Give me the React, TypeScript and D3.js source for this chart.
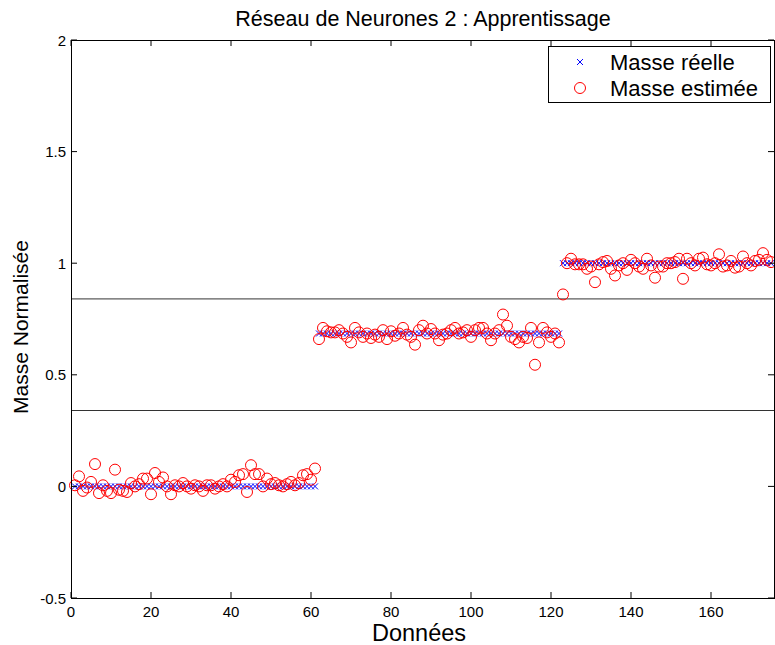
import React from "react";
import * as d3 from "d3";

const realValues: number[] = [
  ...Array(61).fill(0),
  ...Array(61).fill(0.685),
  ...Array(53).fill(1),
];

const estGroup1: number[] = [
  0.005, 0.045, -0.02, -0.005, 0.02, 0.1, -0.03, 0.005, -0.02, -0.03,
  0.075, -0.015, -0.02, -0.025, 0.015, 0.0, 0.01, 0.035, 0.035, -0.035,
  0.06, 0.02, 0.04, 0.0, -0.035, 0.005, 0.0, 0.015, 0.0, -0.01,
  0.005, 0.0, -0.02, 0.005, 0.005, -0.01, 0.0, 0.01, 0.0, 0.03,
  0.02, 0.05, 0.055, -0.025, 0.095, 0.055, 0.055, 0.0, 0.035, 0.01,
  0.015, 0.005, 0.0, 0.01, 0.02, 0.005, 0.015, 0.05, 0.055, 0.03,
  0.08,
];

const estGroup2: number[] = [
  0.66, 0.71, 0.695, 0.69, 0.69, 0.7, 0.685, 0.67, 0.645, 0.71,
  0.69, 0.67, 0.685, 0.665, 0.68, 0.67, 0.7, 0.66, 0.695, 0.675,
  0.685, 0.71, 0.68, 0.67, 0.635, 0.7, 0.72, 0.685, 0.705, 0.685,
  0.655, 0.68, 0.685, 0.7, 0.71, 0.685, 0.69, 0.7, 0.67, 0.7,
  0.71, 0.71, 0.685, 0.655, 0.685, 0.7, 0.77, 0.72, 0.67, 0.66,
  0.645, 0.67, 0.665, 0.71, 0.545, 0.645, 0.71, 0.69, 0.67, 0.685,
  0.645,
];

const estGroup3: number[] = [
  0.86, 1.0, 1.02, 0.995, 0.995, 0.995, 0.975, 0.985, 0.915, 0.995,
  1.005, 1.01, 0.975, 0.945, 0.99, 1.0, 0.97, 1.015, 1.0, 0.985,
  0.975, 1.02, 0.99, 0.935, 0.985, 0.985, 1.0, 1.0, 1.005, 1.02,
  0.93, 1.02, 1.0, 0.99, 1.02, 1.025, 0.995, 0.99, 1.0, 1.04,
  0.985, 0.99, 1.01, 0.98, 0.985, 1.03, 1.0, 0.99, 1.01, 1.015,
  1.045, 1.015, 1.005,
];

const estimated: number[] = [...estGroup1, ...estGroup2, ...estGroup3];

const thresholds: number[] = [0.34, 0.84];
const xTicks: number[] = [0, 20, 40, 60, 80, 100, 120, 140, 160];
const yTicks: number[] = [-0.5, 0, 0.5, 1, 1.5, 2];

const title = "Réseau de Neurones 2 : Apprentissage";
const xLabel = "Données";
const yLabel = "Masse Normalisée";
const legendLabels = ["Masse réelle", "Masse estimée"];

export default function App() {
  const W = 775;
  const H = 645;
  const left = 71;
  const right = 775;
  const top = 40;
  const bottom = 598;
  const x = d3.scaleLinear().domain([0, 176]).range([left, right]);
  const y = d3.scaleLinear().domain([-0.5, 2]).range([bottom, top]);
  const font = "'Liberation Sans', Arial, Helvetica, sans-serif";
  const tl = 6;
  const cs = 3;

  return (
    <svg
      width={W}
      height={H}
      style={{ position: "absolute", left: 0, top: 0, background: "#fff" }}
      fontFamily={font}
    >
      <rect x={0} y={0} width={W} height={H} fill="#fff" />
      {thresholds.map((t, i) => (
        <line
          key={"t" + i}
          x1={left}
          x2={right}
          y1={y(t)}
          y2={y(t)}
          stroke="#333"
          strokeWidth={1}
        />
      ))}
      <g stroke="#0000ff" strokeWidth={1}>
        {realValues.map((v, i) => {
          const cx = x(i + 1);
          const cy = y(v);
          return (
            <path
              key={"r" + i}
              d={`M${cx - cs},${cy - cs}L${cx + cs},${cy + cs}M${cx - cs},${cy + cs}L${cx + cs},${cy - cs}`}
            />
          );
        })}
      </g>
      <g stroke="#ff0000" strokeWidth={1} fill="none">
        {estimated.map((v, i) => (
          <circle key={"e" + i} cx={x(i + 1)} cy={y(v)} r={5.5} />
        ))}
      </g>
      <rect
        x={left + 0.5}
        y={top + 0.5}
        width={right - left - 1}
        height={bottom - top}
        fill="none"
        stroke="#000"
        strokeWidth={1}
      />
      {xTicks.map((t) => (
        <g key={"xt" + t}>
          <line x1={x(t)} x2={x(t)} y1={bottom} y2={bottom - tl} stroke="#000" />
          <line x1={x(t)} x2={x(t)} y1={top} y2={top + tl} stroke="#000" />
          <text
            x={x(t)}
            y={bottom + 19}
            textAnchor="middle"
            fontSize={15}
            fill="#000"
          >
            {t}
          </text>
        </g>
      ))}
      {yTicks.map((t) => (
        <g key={"yt" + t}>
          <line x1={left} x2={left + tl} y1={y(t)} y2={y(t)} stroke="#000" />
          <line x1={right - 1} x2={right - 1 - tl} y1={y(t)} y2={y(t)} stroke="#000" />
          <text
            x={left - 5}
            y={y(t) + 5.5}
            textAnchor="end"
            fontSize={15}
            fill="#000"
          >
            {t}
          </text>
        </g>
      ))}
      <text x={423} y={26} textAnchor="middle" fontSize={21.5} fill="#000">
        {title}
      </text>
      <text x={419} y={641} textAnchor="middle" fontSize={23.5} fill="#000">
        {xLabel}
      </text>
      <text
        transform={`translate(28,${(top + bottom) / 2 + 8}) rotate(-90)`}
        textAnchor="middle"
        fontSize={21}
        fill="#000"
      >
        {yLabel}
      </text>
      <g>
        <rect x={548.5} y={46.5} width={222} height={56} fill="#fff" stroke="#000" />
        <path
          d={`M${580 - cs},${62 - cs}L${580 + cs},${62 + cs}M${580 - cs},${62 + cs}L${580 + cs},${62 - cs}`}
          stroke="#0000ff"
        />
        <text x={610} y={70} fontSize={22} fill="#000">
          {legendLabels[0]}
        </text>
        <circle cx={580} cy={88} r={5.5} fill="none" stroke="#ff0000" />
        <text x={610} y={96} fontSize={22} fill="#000">
          {legendLabels[1]}
        </text>
      </g>
    </svg>
  );
}
